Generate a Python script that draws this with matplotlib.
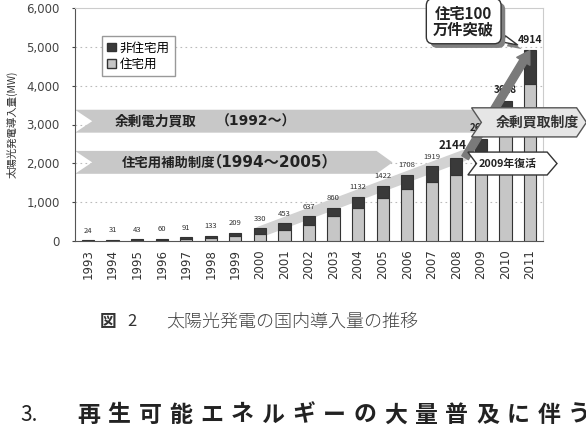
import numpy as np
import matplotlib as mpl
mpl.use('Agg')
import matplotlib.pyplot as plt
import matplotlib.patheffects as pe
from matplotlib.patches import Polygon, Patch
from matplotlib.ticker import FuncFormatter

plt.rcParams['font.family'] = ['Noto Sans CJK JP', 'DejaVu Sans']
NUMFONT = ['DejaVu Sans', 'Noto Sans CJK JP']

# data (MW, cumulative)
years = [1993, 1994, 1995, 1996, 1997, 1998, 1999, 2000, 2001, 2002,
         2003, 2004, 2005, 2006, 2007, 2008, 2009, 2010, 2011]
total = [24, 31, 43, 60, 91, 133, 209, 330, 453, 637,
         860, 1132, 1422, 1708, 1919, 2144, 2627, 3618, 4914]
residential = [2, 5, 10, 20, 40, 70, 120, 190, 280, 420,
               640, 860, 1110, 1340, 1520, 1700, 2300, 3400, 4050]
non_residential = [t - r for t, r in zip(total, residential)]
big_years = {2008: 8.5, 2009: 7, 2010: 7, 2011: 7.5}

W, H = 586, 434
fig = plt.figure(figsize=(W / 100, H / 100), dpi=100)
ax = fig.add_axes([75 / W, 1 - 241 / H, (543 - 75) / W, (241 - 8) / H])

x = np.arange(len(years))
ax.bar(x, residential, width=0.5, color='#c6c6c6', edgecolor='#333333',
       linewidth=0.8, zorder=3)
ax.bar(x, non_residential, bottom=residential, width=0.5, color='#3a3a3a',
       edgecolor='#333333', linewidth=0.8, zorder=3)

ax.set_xlim(-0.53, 18.53)
ax.set_ylim(0, 6000)
ax.set_yticks(range(0, 6001, 1000))
ax.yaxis.set_major_formatter(FuncFormatter(lambda v, p: '{:,.0f}'.format(v)))
ax.set_xticks(x)
ax.set_xticklabels([str(y) for y in years], rotation=90, fontsize=8.5,
                   color='#333333', family=NUMFONT)
for lb in ax.get_yticklabels():
    lb.set_family(NUMFONT)
ax.tick_params(axis='y', labelsize=8.5, colors='#444444', length=2, pad=9)
ax.tick_params(axis='x', length=0, pad=6)
ax.set_ylabel('太陽光発電導入量(MW)', fontsize=7.5, color='#333333', labelpad=6)
for yv in range(1000, 6000, 1000):
    ax.axhline(yv, color='#bbbbbb', lw=0.8, ls=(0, (1.5, 3)), zorder=0)
for s in ['top', 'right']:
    ax.spines[s].set_color('#cccccc')
ax.spines['left'].set_color('#555555')
ax.spines['bottom'].set_color('#555555')

# value labels
for i, (yr, t) in enumerate(zip(years, total)):
    if yr in big_years:
        ax.annotate(str(t), (i, t), xytext=(-3 if yr == 2008 else 0, 4),
                    textcoords='offset points', ha='center', va='bottom',
                    fontsize=big_years[yr], fontweight='bold', color='#222222', zorder=4)
    else:
        ax.annotate(str(t), (i, t), xytext=(0, 4), textcoords='offset points',
                    ha='center', va='bottom', fontsize=5.5, color='#333333', zorder=4)

# trend bands
i00, i08, i11 = years.index(2000), years.index(2008), years.index(2011)
ax.annotate('', xy=(i08 + 0.4, total[i08] + 80), xytext=(i00 - 0.1, total[i00] - 120),
            arrowprops=dict(arrowstyle='-', color='#d2d2d2', lw=8), zorder=2)
ax.annotate('', xy=(i11 + 0.05, total[i11] + 50), xytext=(i08 + 0.3, total[i08] - 60),
            arrowprops=dict(arrowstyle='simple,head_width=1.1,head_length=0.9,tail_width=0.55',
                            color='#7a7a7a'), zorder=5)


def chevron(x0, x1, y0, y1, notch, point):
    ym = (y0 + y1) / 2
    return [(x0, y1), (x1, y1), (x1 + point, ym), (x1, y0), (x0, y0), (x0 + notch, ym)]


# policy arrows
ax.add_patch(Polygon(chevron(-0.53, 16.6, 2790, 3380, 0.7, 0.5), closed=True,
                     fc='#c8c8c8', ec='none', zorder=1, clip_on=False))
ax.text(1.1, 3085, '余剰電力買取', fontsize=9.8, fontweight='bold',
        va='center', ha='left', color='#222222', zorder=2)
ax.text(5.2, 3085, '（1992～）', fontsize=10, family=NUMFONT, fontweight='bold',
        va='center', ha='left', color='#222222', zorder=2)
i05 = years.index(2005)
ax.add_patch(Polygon(chevron(-0.53, i05 - 0.25, 1730, 2320, 0.7, 0.65), closed=True,
                     fc='#c8c8c8', ec='none', zorder=1, clip_on=False))
ax.text(1.38, 2025, '住宅用補助制度', fontsize=9.6, fontweight='bold',
        va='center', ha='left', color='#222222', zorder=2)
ax.text(4.85, 2025, '（1994～2005）', fontsize=11, family=NUMFONT, fontweight='bold',
        va='center', ha='left', color='#222222', zorder=2)

ax.add_patch(Polygon(chevron(15.62, 19.9, 2680, 3430, 0.4, 0.4), closed=True,
                     fc='#e6e6e6', ec='#555555', lw=1, zorder=6, clip_on=False))
ax.text(18.3, 3055, '余剰買取制度', fontsize=10, fontweight='bold', va='center',
        ha='center', color='#333333', zorder=7, clip_on=False)
ax.add_patch(Polygon(chevron(15.47, 18.7, 1700, 2290, 0.35, 0.4), closed=True,
                     fc='white', ec='#333333', lw=1, zorder=6, clip_on=False))
ax.text(17.1, 1995, '2009年復活', fontsize=7.8, fontweight='bold', va='center',
        ha='center', color='#222222', zorder=7)

# callout
call = ax.annotate('住宅100\n万件突破', xy=(17.6, 5020), xytext=(15.3, 5660),
                   textcoords='data', ha='center', va='center', fontsize=11,
                   fontweight='bold', linespacing=0.95, color='#222222',
                   bbox=dict(boxstyle='round,pad=0.45', fc='white', ec='#333333', lw=1),
                   arrowprops=dict(arrowstyle='wedge,tail_width=0.45', fc='white',
                                   ec='#333333', lw=1),
                   zorder=8, annotation_clip=False)
shadow = [pe.SimplePatchShadow(offset=(3, -3), shadow_rgbFace='#808080', alpha=1),
          pe.Normal()]
call.get_bbox_patch().set_path_effects(shadow)
call.arrow_patch.set_path_effects(shadow)

ax.legend(handles=[Patch(fc='#3a3a3a', ec='#333333', label='非住宅用'),
                   Patch(fc='#c6c6c6', ec='#333333', label='住宅用')],
          loc='upper left', bbox_to_anchor=(0.045, 0.905), fontsize=9,
          handlelength=0.7, handleheight=0.7, handletextpad=0.3,
          labelspacing=0.25, borderpad=0.4, frameon=True, fancybox=False,
          edgecolor='#999999', framealpha=1)

# caption and heading
fig.text(100 / W, 1 - 322 / H, '図', fontsize=12, fontweight='bold', va='center', color='#333333')
fig.text(127 / W, 1 - 322 / H, '2', fontsize=12, va='center', color='#333333')
fig.text(166 / W, 1 - 322 / H, '太陽光発電の国内導入量の推移', fontsize=13,
         va='center', color='#444444', fontweight='light')
fig.text(20 / W, 1 - 415 / H, '3.', fontsize=15, va='center', color='#222222')
heading = '再生可能エネルギーの大量普及に伴う'
for k, ch in enumerate(heading):
    fig.text((77 + k * 30.7) / W, 1 - 415 / H, ch, fontsize=16.5, fontweight='bold',
             va='center', color='#222222')

fig.savefig('out.png', dpi=100)
